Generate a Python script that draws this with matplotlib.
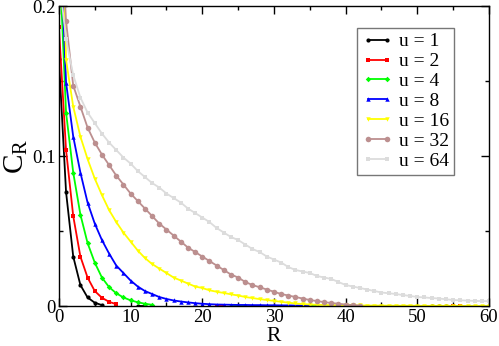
import numpy as np
import matplotlib
matplotlib.use('Agg')
import matplotlib.pyplot as plt
from matplotlib.ticker import MultipleLocator

plt.rcParams['font.family'] = ['Liberation Serif', 'DejaVu Serif']
plt.rcParams['mathtext.fontset'] = 'custom'
plt.rcParams['mathtext.rm'] = 'Liberation Serif'
plt.rcParams['mathtext.it'] = 'Liberation Serif:italic'

NAN = np.nan

# --- dados (R inteiro, C_R) ---
R_u1 = [0, 1, 2, 3, 4, 5, 6, NAN, 11, 12, NAN, 52, 53, 54]
C_u1 = [0.165, 0.076, 0.033, 0.014, 0.0057, 0.0022, 0.0006, NAN, 0, 0, NAN, 0, 0, 0]

R_u2 = [0, 1, 2, 3, 4, 5, 6, 7, 8, NAN, 22, 23, NAN, 38, 39, NAN, 55, 56]
C_u2 = [0.186, 0.104, 0.060, 0.033, 0.019, 0.010, 0.0055, 0.0028, 0.0012,
        NAN, 0, 0, NAN, 0, 0, NAN, 0, 0]

R_u4 = list(range(0, 14)) + [NAN, 24, 25, 26, NAN, 35, 36]
C_u4 = [0.24, 0.129, 0.089, 0.061, 0.042, 0.029, 0.019, 0.0126, 0.0085,
        0.0057, 0.0038, 0.0025, 0.0015, 0.0008, NAN, 0, 0, 0, NAN, 0, 0]

R_u8 = list(range(0, 36))
C_u8 = [0.27, 0.149, 0.113, 0.089, 0.069, 0.055, 0.044, 0.035, 0.027, 0.022,
        0.017, 0.013, 0.010, 0.008, 0.006, 0.0047, 0.0037, 0.003, 0.0024, 0.0019,
        0.0015, 0.0012, 0.0010, 0.0009, 0.0008, 0.0007, 0.0007, 0.0006, 0.0006, 0.0005,
        0.0005, 0.0004, 0.0004, 0.0003, 0.0003, 0.0003]

R_u16 = list(range(0, 61))
C_u16 = [0.35, 0.164, 0.133, 0.113, 0.098, 0.085, 0.074, 0.064, 0.056, 0.049,
         0.043, 0.037, 0.032, 0.028, 0.025, 0.022, 0.019, 0.017, 0.015, 0.013,
         0.012, 0.0105, 0.0095, 0.0087, 0.0078, 0.007, 0.006, 0.0053, 0.0046, 0.004,
         0.0034, 0.0028, 0.0022, 0.0017, 0.0013, 0.0010, 0.0008, 0.0007, 0.0006, 0.0005,
         0.0005, 0.0004, 0.0004, 0.0003, 0.0003, 0.0003, 0.0002, 0.0002, 0.0002, 0.0002,
         0.0001, 0.0001, 0.0001, 0.0001, 0.0001, 0.0001, 0.0001, 0.0, 0.0, 0.0, 0.0]

R_u32 = list(range(0, 43))
C_u32 = [0.28, 0.19, 0.147, 0.133, 0.119, 0.109, 0.101, 0.094, 0.087, 0.081,
         0.075, 0.070, 0.065, 0.060, 0.055, 0.051, 0.047, 0.043, 0.039, 0.036,
         0.033, 0.030, 0.027, 0.024, 0.021, 0.019, 0.016, 0.014, 0.0125, 0.011,
         0.0095, 0.008, 0.007, 0.006, 0.005, 0.004, 0.0033, 0.0026, 0.002, 0.0015,
         0.001, 0.0006, 0.0003]

R_u64 = list(range(0, 61))
C_u64 = [0.22, 0.178, 0.154, 0.139, 0.129, 0.122, 0.115, 0.109, 0.104, 0.099,
         0.095, 0.090, 0.086, 0.082, 0.079, 0.075, 0.072, 0.069, 0.065, 0.062,
         0.059, 0.056, 0.052, 0.049, 0.046, 0.044, 0.041, 0.038, 0.036, 0.033,
         0.031, 0.029, 0.026, 0.024, 0.023, 0.022, 0.020, 0.019, 0.018, 0.016,
         0.014, 0.013, 0.012, 0.011, 0.010, 0.009, 0.0085, 0.008, 0.0073, 0.0067,
         0.006, 0.0057, 0.0053, 0.005, 0.0045, 0.004, 0.0038, 0.0036, 0.0034, 0.0033,
         0.0032]

ROTULOS = ['u = 1', 'u = 2', 'u = 4', 'u = 8', 'u = 16', 'u = 32', 'u = 64']
SERIES = [(R_u1, C_u1), (R_u2, C_u2), (R_u4, C_u4), (R_u8, C_u8),
          (R_u16, C_u16), (R_u32, C_u32), (R_u64, C_u64)]

CORES = ['#000000', '#ff0000', '#00ff00', '#0000ff', '#ffff00', '#bc8f8f', '#dcdcdc']
MARCADORES = ['o', 's', 'D', '^', 'v', 'o', 's']
TAMANHOS = [3.0, 2.8, 2.8, 3.2, 3.2, 4.0, 3.5]

fig = plt.figure(figsize=(4.99, 3.46), dpi=100)
ax = fig.add_axes([0.118, 0.1156, 0.862, 0.867])

for (r, c), lab, cor, mk, ms in zip(SERIES, ROTULOS, CORES, MARCADORES, TAMANHOS):
    ax.plot(r, c, color=cor, marker=mk, markersize=ms, linewidth=1.3,
            markeredgewidth=0, label=lab)

ax.set_xlim(0, 60)
ax.set_ylim(0, 0.2)
ax.xaxis.set_major_locator(MultipleLocator(10))
ax.xaxis.set_minor_locator(MultipleLocator(5))
ax.yaxis.set_major_locator(MultipleLocator(0.1))
ax.yaxis.set_minor_locator(MultipleLocator(0.05))
ax.set_yticks([0, 0.1, 0.2])
ax.set_yticklabels(['0', '0.1', '0.2'])
ax.tick_params(which='both', direction='in', top=True, right=True, labelsize=13.5, width=1)
ax.tick_params(which='major', length=6)
ax.tick_params(which='minor', length=3)
ax.tick_params(axis='x', which='major', pad=2)
ax.tick_params(axis='y', which='major', pad=2)
for s in ax.spines.values():
    s.set_linewidth(1)

# rótulo do eixo x posicionado à mão, colado na borda inferior
ax.set_xlabel('R', fontsize=15.5)
ax.xaxis.label.set_va('bottom')
ax.xaxis.set_label_coords(0.5, -0.135)
ax.set_ylabel(r'$\mathrm{C_R}$', fontsize=21, labelpad=2)

leg = ax.legend(loc='upper right', bbox_to_anchor=(0.918, 0.927), numpoints=2,
                fontsize=14, frameon=True, fancybox=False, handlelength=1.6,
                handletextpad=0.3, borderpad=0.25, labelspacing=0.12, borderaxespad=0)
leg.get_frame().set_edgecolor('#555555')
leg.get_frame().set_linewidth(1)

fig.savefig('out.png', dpi=100)
